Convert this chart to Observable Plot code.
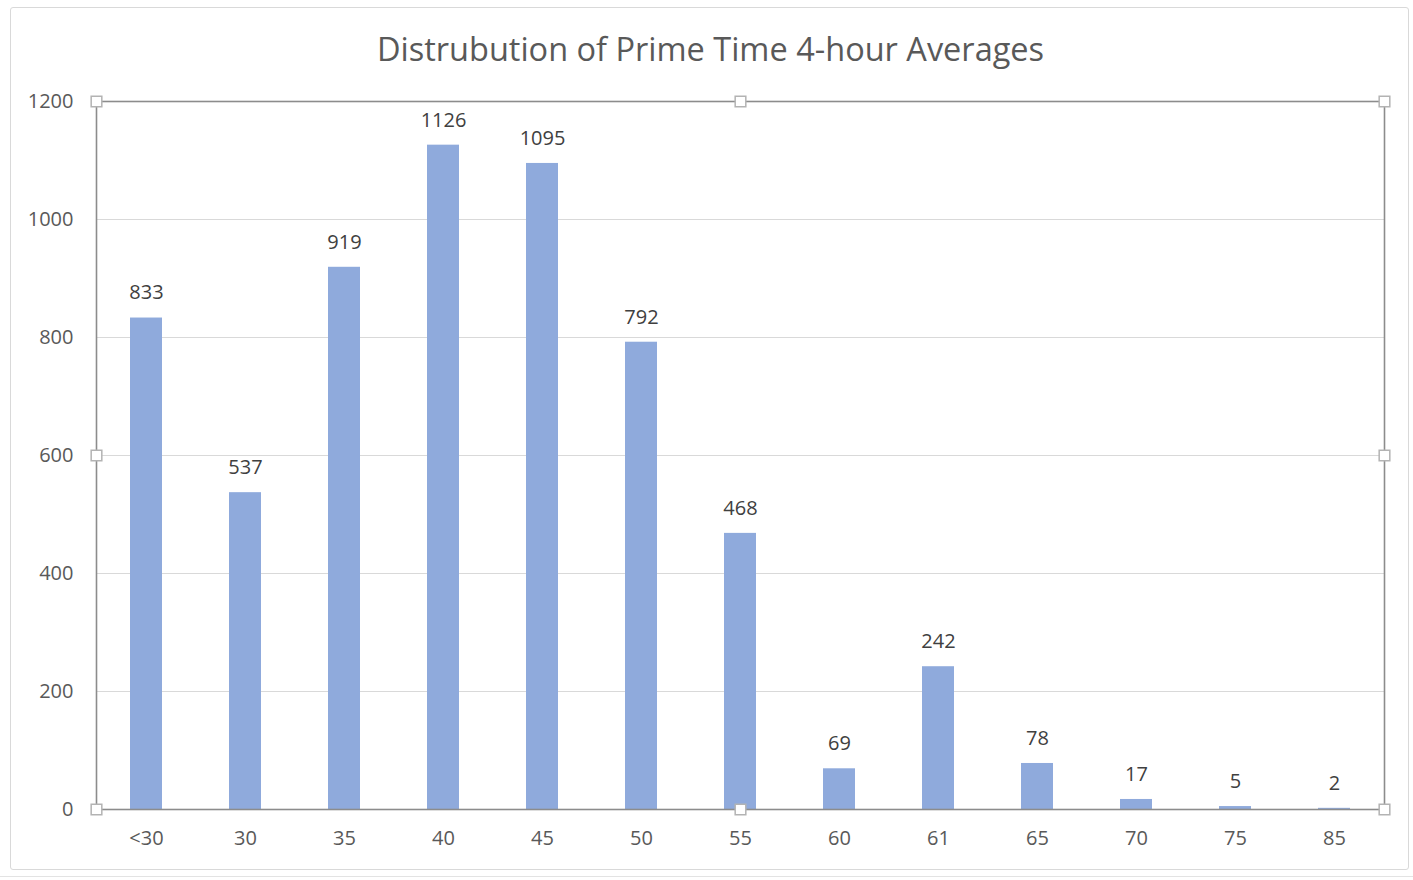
<!DOCTYPE html>
<html>
<head>
<meta charset="utf-8">
<script src="https://cdn.jsdelivr.net/npm/d3@7"></script>
<script src="https://cdn.jsdelivr.net/npm/@observablehq/plot@0.6"></script>
<style>
  body { margin: 0; background: #fff; }
  #wrap { position: relative; width: 1413px; height: 880px; overflow: hidden; }
  #card { position: absolute; left: 10px; top: 7px; width: 1399px; height: 863px;
          border: 1px solid #d9d9d9; border-radius: 3px; box-sizing: border-box; }
  #sheet { position: absolute; left: 0; top: 876px; width: 1413px; height: 10px;
           border-top: 1px solid #e3e3e3; }
  #chart { position: absolute; left: 0; top: 0; }
  #chart svg { font-family: "Open Sans", "Segoe UI", sans-serif; }
</style>
</head>
<body>
<div id="wrap">
  <div id="sheet"></div>
  <div id="card"></div>
  <div id="chart"></div>
</div>
<script>
// Prime-time 4-hour average buckets and their counts
const buckets = ["<30", "30", "35", "40", "45", "50", "55", "60", "61", "65", "70", "75", "85"];
const counts  = [833, 537, 919, 1126, 1095, 792, 468, 69, 242, 78, 17, 5, 2];
const yTicks  = [0, 200, 400, 600, 800, 1000, 1200];
const title   = "Distrubution of Prime Time 4-hour Averages";

const rows = buckets.map((b, i) => ({bucket: b, count: counts[i]}));

// selection handles around the plot area
const handleAnchors = ["top-left", "top", "top-right", "left", "right", "bottom-left", "bottom", "bottom-right"];

const chart = Plot.plot({
  width: 1413,
  height: 880,
  marginLeft: 96,
  marginRight: 29,
  marginTop: 101,
  marginBottom: 71,
  style: {fontSize: "20px", color: "#595959", background: "transparent"},
  x: {domain: buckets, paddingInner: 0.68, paddingOuter: 0.34, label: null, tickSize: 0, tickPadding: 21},
  y: {domain: [0, 1200], ticks: yTicks, tickFormat: d => String(d), label: null, tickSize: 0, tickPadding: 23},
  marks: [
    Plot.gridY(yTicks, {stroke: "#d9d9d9", strokeOpacity: 1, strokeWidth: 1}),
    Plot.barY(rows, {x: "bucket", y: "count", fill: "#8faadc"}),
    Plot.text(rows, {x: "bucket", y: "count", text: d => String(d.count), dy: -25,
                     fill: "#404040", fontSize: 20}),
    Plot.frame({stroke: "#8c8c8c", strokeWidth: 1.6}),
    ...handleAnchors.map(a => Plot.dot([0], {frameAnchor: a, symbol: "square", r: 6,
                     fill: "white", stroke: "#b3b3b3", strokeWidth: 1.5})),
    Plot.text([title], {frameAnchor: "top", dx: -30, dy: -64, fill: "#595959", fontSize: 32.5})
  ]
});

document.getElementById("chart").appendChild(chart);
</script>
</body>
</html>
